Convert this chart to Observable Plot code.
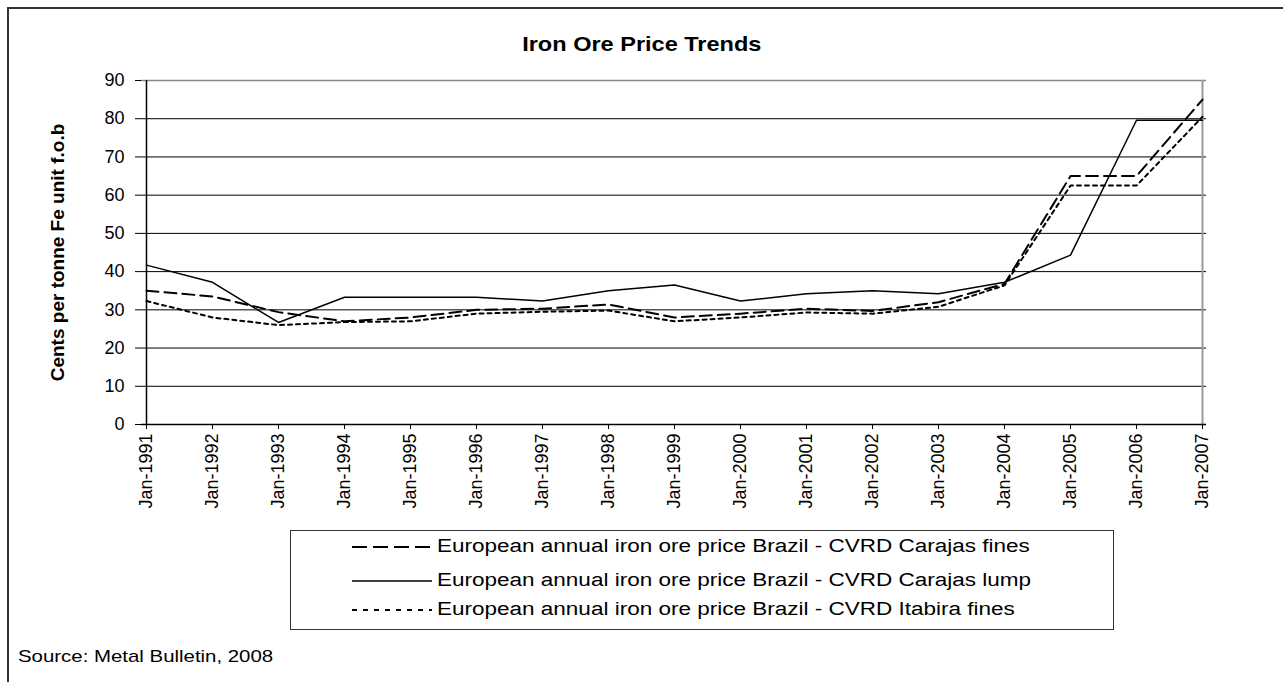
<!DOCTYPE html>
<html>
<head>
<meta charset="utf-8">
<script src="https://cdn.jsdelivr.net/npm/d3@7"></script>
<script src="https://cdn.jsdelivr.net/npm/@observablehq/plot@0.6"></script>
<style>
  html, body { margin: 0; padding: 0; background: #fff; }
  #wrap { position: relative; width: 1283px; height: 682px; overflow: hidden; font-family: "Liberation Sans", Arial, sans-serif; color: #000; }
  #frame { position: absolute; left: 7px; top: 7px; width: 1300px; height: 700px; border-top: 2px solid #333; border-left: 2px solid #333; }
  #chart { position: absolute; left: 0; top: 0; }
  #title { position: absolute; left: 0; width: 1283px; top: 32px; text-align: center; font-weight: bold; font-size: 21px; }
  #title span { display: inline-block; transform: scaleX(1.12); }
  #legend { position: absolute; left: 290px; top: 530px; width: 824px; height: 100px; border: 1px solid #333; box-sizing: border-box; }
  .row { position: absolute; left: 0; height: 24px; }
  .row svg { position: absolute; left: 61px; top: 0; }
  .row .lab { position: absolute; left: 146px; top: 1px; font-size: 18px; white-space: nowrap; transform: scaleX(1.25); transform-origin: left center; }
  #source { position: absolute; left: 18px; top: 647px; font-size: 17px; white-space: nowrap; transform: scaleX(1.2); transform-origin: left center; }
</style>
</head>
<body>
<div id="wrap">
  <div id="frame"></div>
  <div id="chart"></div>
  <div id="title"><span>Iron Ore Price Trends</span></div>
  <div id="legend"></div>
  <div id="source">Source: Metal Bulletin, 2008</div>
</div>
<script>
const years = ["Jan-1991","Jan-1992","Jan-1993","Jan-1994","Jan-1995","Jan-1996","Jan-1997","Jan-1998","Jan-1999","Jan-2000","Jan-2001","Jan-2002","Jan-2003","Jan-2004","Jan-2005","Jan-2006","Jan-2007"];
const carajasFines = [35, 33.5, 29.4, 27, 28, 30, 30.3, 31.4, 28, 29, 30.3, 29.7, 32, 36.8, 65, 65, 85];
const carajasLump  = [41.7, 37.2, 26.7, 33.3, 33.3, 33.3, 32.3, 35, 36.5, 32.3, 34.2, 35, 34.2, 37.2, 44.3, 79.6, 79.6];
const itabiraFines = [32.3, 28, 26, 26.8, 27, 29, 29.5, 29.8, 27, 28, 29.3, 29, 30.8, 36.4, 62.5, 62.5, 80.5];
const yTicks = [0, 10, 20, 30, 40, 50, 60, 70, 80, 90];
const seriesNames = [
  "European annual iron ore price Brazil - CVRD Carajas fines",
  "European annual iron ore price Brazil - CVRD Carajas lump",
  "European annual iron ore price Brazil - CVRD Itabira fines"
];
const yLabel = "Cents per tonne Fe unit f.o.b";

const dashes = ["12,6", null, "4,4"];
const widths = [2, 1.5, 2];
const seriesValues = [carajasFines, carajasLump, itabiraFines];
const table = seriesValues.map(arr => years.map((y, i) => ({year: y, value: arr[i]})));

const plot = Plot.plot({
  width: 1283,
  height: 682,
  marginLeft: 141,
  marginRight: 77,
  marginTop: 80,
  marginBottom: 258,
  style: {fontFamily: "Liberation Sans, Arial, sans-serif", fontSize: "18px", color: "#000", background: "transparent"},
  x: {type: "point", domain: years, padding: 0, range: [141, 1206]},
  y: {domain: [0, 90], range: [424, 80]},
  marks: [
    Plot.gridY(yTicks.filter(t => t > 0 && t < 90), {stroke: "#000", strokeOpacity: 1, strokeWidth: 1}),
    Plot.ruleY([90], {stroke: "#888", strokeWidth: 1.5}),
    Plot.ruleX([years[years.length - 1]], {y1: 0, y2: 90, stroke: "#999", strokeWidth: 2}),
    Plot.axisY({ticks: yTicks, tickSize: 6, tickPadding: 11, fontSize: 18, label: null, stroke: "#000"}),
    Plot.axisX({tickRotate: -90, tickSize: 5, tickPadding: 4, fontSize: 18, label: null, stroke: "#000"}),
    Plot.ruleX([years[0]], {y1: 0, y2: 90, stroke: "#000", strokeWidth: 1.5}),
    Plot.ruleY([0], {stroke: "#000", strokeWidth: 1.5}),
    ...table.map((d, k) => Plot.line(d, {x: "year", y: "value", stroke: "#000", strokeWidth: widths[k], strokeDasharray: dashes[k]})),
    Plot.text([yLabel], {frameAnchor: "left", dx: -84, rotate: -90, textAnchor: "middle", fontWeight: "bold", fontSize: 19, text: d => d})
  ]
});
document.getElementById("chart").appendChild(plot);

// Legend
const legend = document.getElementById("legend");
const rowTops = [4, 38, 67];
seriesNames.forEach((name, k) => {
  const row = document.createElement("div");
  row.className = "row";
  row.style.top = rowTops[k] + "px";
  row.style.width = "820px";
  const svg = d3.create("svg").attr("width", 82).attr("height", 24);
  svg.append("line").attr("x1", 0).attr("x2", 80).attr("y1", 12).attr("y2", 12)
    .attr("stroke", "#000").attr("stroke-width", widths[k])
    .attr("stroke-dasharray", k === 0 ? "15,6" : "5,6");
  if (k === 1) svg.select("line").attr("stroke-dasharray", null);
  row.appendChild(svg.node());
  const lab = document.createElement("div");
  lab.className = "lab";
  lab.textContent = name;
  row.appendChild(lab);
  legend.appendChild(row);
});
</script>
</body>
</html>
